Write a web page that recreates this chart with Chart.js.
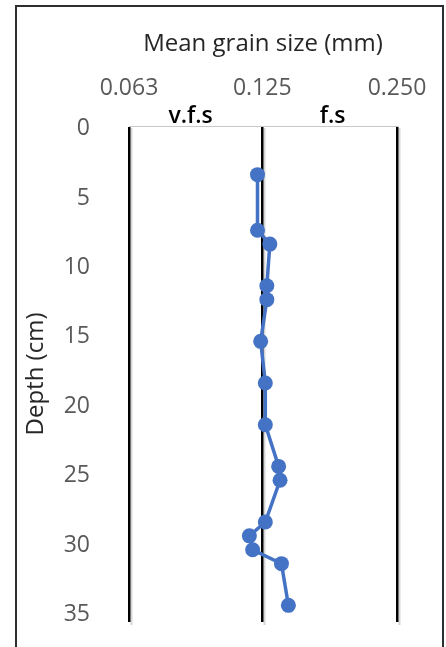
<!DOCTYPE html>
<html>
<head>
<meta charset="utf-8">
<script src="https://cdn.jsdelivr.net/npm/chart.js@4"></script>
<style>
  html, body { margin: 0; padding: 0; background: #fff; }
  #wrap { position: relative; width: 446px; height: 647px; overflow: hidden; }
  #frame { position: absolute; left: 15px; top: 5px; width: 429px; height: 720px;
           border: 2px solid #2e2e2e; box-sizing: border-box; }
  canvas { position: absolute; left: 0; top: 0; }
</style>
</head>
<body>
<div id="wrap">
  <div id="frame"></div>
  <canvas id="c" width="446" height="647"></canvas>
</div>
<script>
// Sample depths (cm) and mean grain size (mm) of each slice
const depthCm = [3.5, 7.5, 8.5, 11.5, 12.5, 15.5, 18.5, 21.5, 24.5, 25.5, 28.5, 29.5, 30.5, 31.5, 34.5];
const grainMm = [0.122, 0.122, 0.130, 0.128, 0.128, 0.124, 0.127, 0.127, 0.136, 0.137, 0.127, 0.117, 0.119, 0.138, 0.143];

// Wentworth class boundaries (mm) used as ticks, and depth ticks
const sizeTicks = [0.063, 0.125, 0.250];
const depthTicks = [0, 5, 10, 15, 20, 25, 30, 35];

// Size classes between boundaries
const classNames = ['v.f.s', 'f.s'];
const classRanges = [[0.063, 0.125], [0.125, 0.250]];

const PAD_LEFT = 18, PAD_TOP = 26;

const overlay = {
  id: 'overlay',
  beforeDatasetsDraw(chart) {
    // soft shadow to the right of each class boundary line
    const { ctx, chartArea, scales: { x } } = chart;
    ctx.save();
    ctx.strokeStyle = 'rgba(0,0,0,0.16)';
    ctx.lineWidth = 2;
    sizeTicks.forEach(v => {
      const px = Math.round(x.getPixelForValue(v)) + 2.5;
      ctx.beginPath();
      ctx.moveTo(px, chartArea.top + 2);
      ctx.lineTo(px, chartArea.bottom + 3);
      ctx.stroke();
    });
    ctx.restore();
  },
  afterDraw(chart) {
    const { ctx, chartArea, scales: { x } } = chart;
    ctx.save();
    ctx.fillStyle = '#000';
    ctx.font = '600 23px "Open Sans"';
    ctx.textAlign = 'center';
    ctx.textBaseline = 'alphabetic';
    classNames.forEach((name, i) => {
      const [lo, hi] = classRanges[i];
      const cx = x.getPixelForValue(Math.sqrt(lo * hi));
      ctx.fillText(name, cx + (i === 0 ? -5 : 3), chartArea.top - 3.5);
    });
    ctx.restore();
  }
};

new Chart(document.getElementById('c'), {
  type: 'scatter',
  data: {
    datasets: [{
      data: depthCm.map((d, i) => ({ x: grainMm[i], y: d })),
      showLine: true,
      borderColor: '#4472C4',
      backgroundColor: '#4472C4',
      borderWidth: 3.5,
      pointRadius: 7.5,
      pointHoverRadius: 7.5,
      pointBorderWidth: 0
    }]
  },
  options: {
    responsive: false,
    animation: false,
    events: [],
    layout: { padding: { left: PAD_LEFT, top: PAD_TOP, right: 49, bottom: 25 } },
    plugins: { legend: { display: false }, tooltip: { enabled: false } },
    scales: {
      x: {
        type: 'logarithmic',
        position: 'top',
        min: sizeTicks[0],
        max: sizeTicks[sizeTicks.length - 1],
        afterBuildTicks: s => { s.ticks = sizeTicks.map(v => ({ value: v })); },
        afterFit: s => {
          s.height = 126 - PAD_TOP;
          s.paddingLeft = 0; s.paddingRight = 0;
        },
        ticks: {
          callback: v => Number(v).toFixed(3),
          color: '#595959',
          font: { family: 'Open Sans', size: 23 },
          padding: 24,
          maxRotation: 0,
          autoSkip: false
        },
        grid: { color: '#000', lineWidth: 2.5, drawTicks: false },
        border: { display: true, color: '#c8c8c8', width: 1 },
        title: {
          display: true,
          text: 'Mean grain size (mm)',
          color: '#262626',
          font: { family: 'Open Sans', size: 24 },
          padding: { top: 4, bottom: 0 }
        }
      },
      y: {
        type: 'linear',
        reverse: true,
        min: 0,
        max: 35.7,
        afterBuildTicks: s => { s.ticks = depthTicks.map(v => ({ value: v })); },
        afterFit: s => {
          s.width = 129 - PAD_LEFT;
          s.paddingTop = 0; s.paddingBottom = 0;
        },
        ticks: {
          color: '#595959',
          font: { family: 'Open Sans', size: 23 },
          padding: 31,
          labelOffset: 2.5
        },
        grid: { display: false },
        border: { display: false },
        title: {
          display: true,
          text: 'Depth (cm)',
          color: '#262626',
          font: { family: 'Open Sans', size: 24 },
          padding: { top: 4, bottom: 0 }
        }
      }
    }
  },
  plugins: [overlay]
});
</script>
</body>
</html>
